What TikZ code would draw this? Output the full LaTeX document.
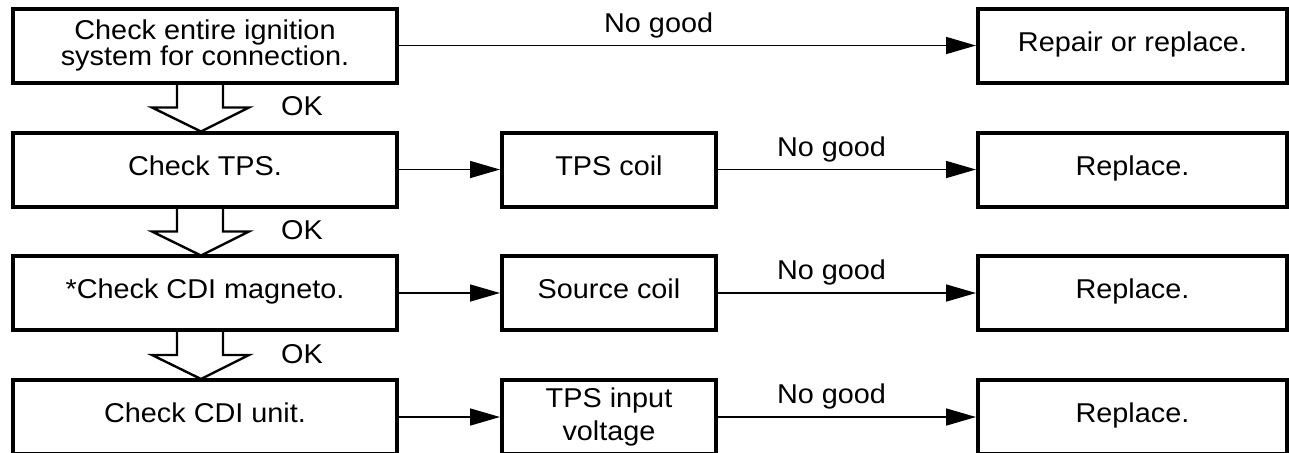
\documentclass[tikz,border=0pt]{standalone}
\usepackage{fontspec}
\setmainfont[FakeStretch=1.06]{Liberation Sans}
\usetikzlibrary{arrows.meta}
\begin{document}
\begin{tikzpicture}[x=0.5pt,y=0.5pt,
  font=\fontsize{13.6}{13.4}\selectfont,
  box/.style={draw,line width=2pt,minimum height=37pt,inner sep=2pt,align=center,text depth=4pt},
  checkbox/.style={box,minimum width=192pt},
  partbox/.style={box,minimum width=107pt},
  fixbox/.style={box,minimum width=154.5pt},
  goarrow/.style={line width=0.8pt,-{Triangle[length=15pt,width=8.5pt]}},
  okarrow/.style={line width=1.2pt,line join=miter}]
\useasboundingbox (0,0) rectangle (1289,-452);

% left column
\node[checkbox,text depth=] (chk1) at (205,-45.5) {Check entire ignition\\system for connection.};
\node[checkbox] (chk2) at (205,-169.5) {Check TPS.};
\node[checkbox] (chk3) at (205,-293) {*Check CDI magneto.};
\node[checkbox] (chk4) at (205,-417) {Check CDI unit.};

% middle column
\node[partbox] (tps) at (609,-169.5) {TPS coil};
\node[partbox] (src) at (609,-293) {Source coil};
\node[partbox,text depth=] (volt) at (609,-417) {TPS input\\[3pt]voltage};

% right column
\node[fixbox] (fix1) at (1132.5,-45.5) {Repair or replace.};
\node[fixbox] (fix2) at (1132.5,-169.5) {Replace.};
\node[fixbox] (fix3) at (1132.5,-293) {Replace.};
\node[fixbox] (fix4) at (1132.5,-417) {Replace.};

\draw[goarrow] (chk1) -- (fix1) node[above,pos=0.45] {No good};
\draw[goarrow] (chk2) -- (tps);
\draw[goarrow] (tps) -- (fix2) node[above,pos=0.44] {No good};
\draw[goarrow] (chk3) -- (src);
\draw[goarrow] (src) -- (fix3) node[above,pos=0.44] {No good};
\draw[goarrow] (chk4) -- (volt);
\draw[goarrow] (volt) -- (fix4) node[above,pos=0.44] {No good};

% hollow OK arrows
\foreach \n in {1,2,3}{
  \draw[okarrow,shift={(chk\n.south)}] (-28,0) -- (-28,-23) -- (-53,-23) -- (-4,-47) -- (44,-23) -- (18,-23) -- (18,0);
  \node (ok\n) at ([xshift=48.5pt,yshift=-11pt]chk\n.south) {OK};
}
\end{tikzpicture}
\end{document}
